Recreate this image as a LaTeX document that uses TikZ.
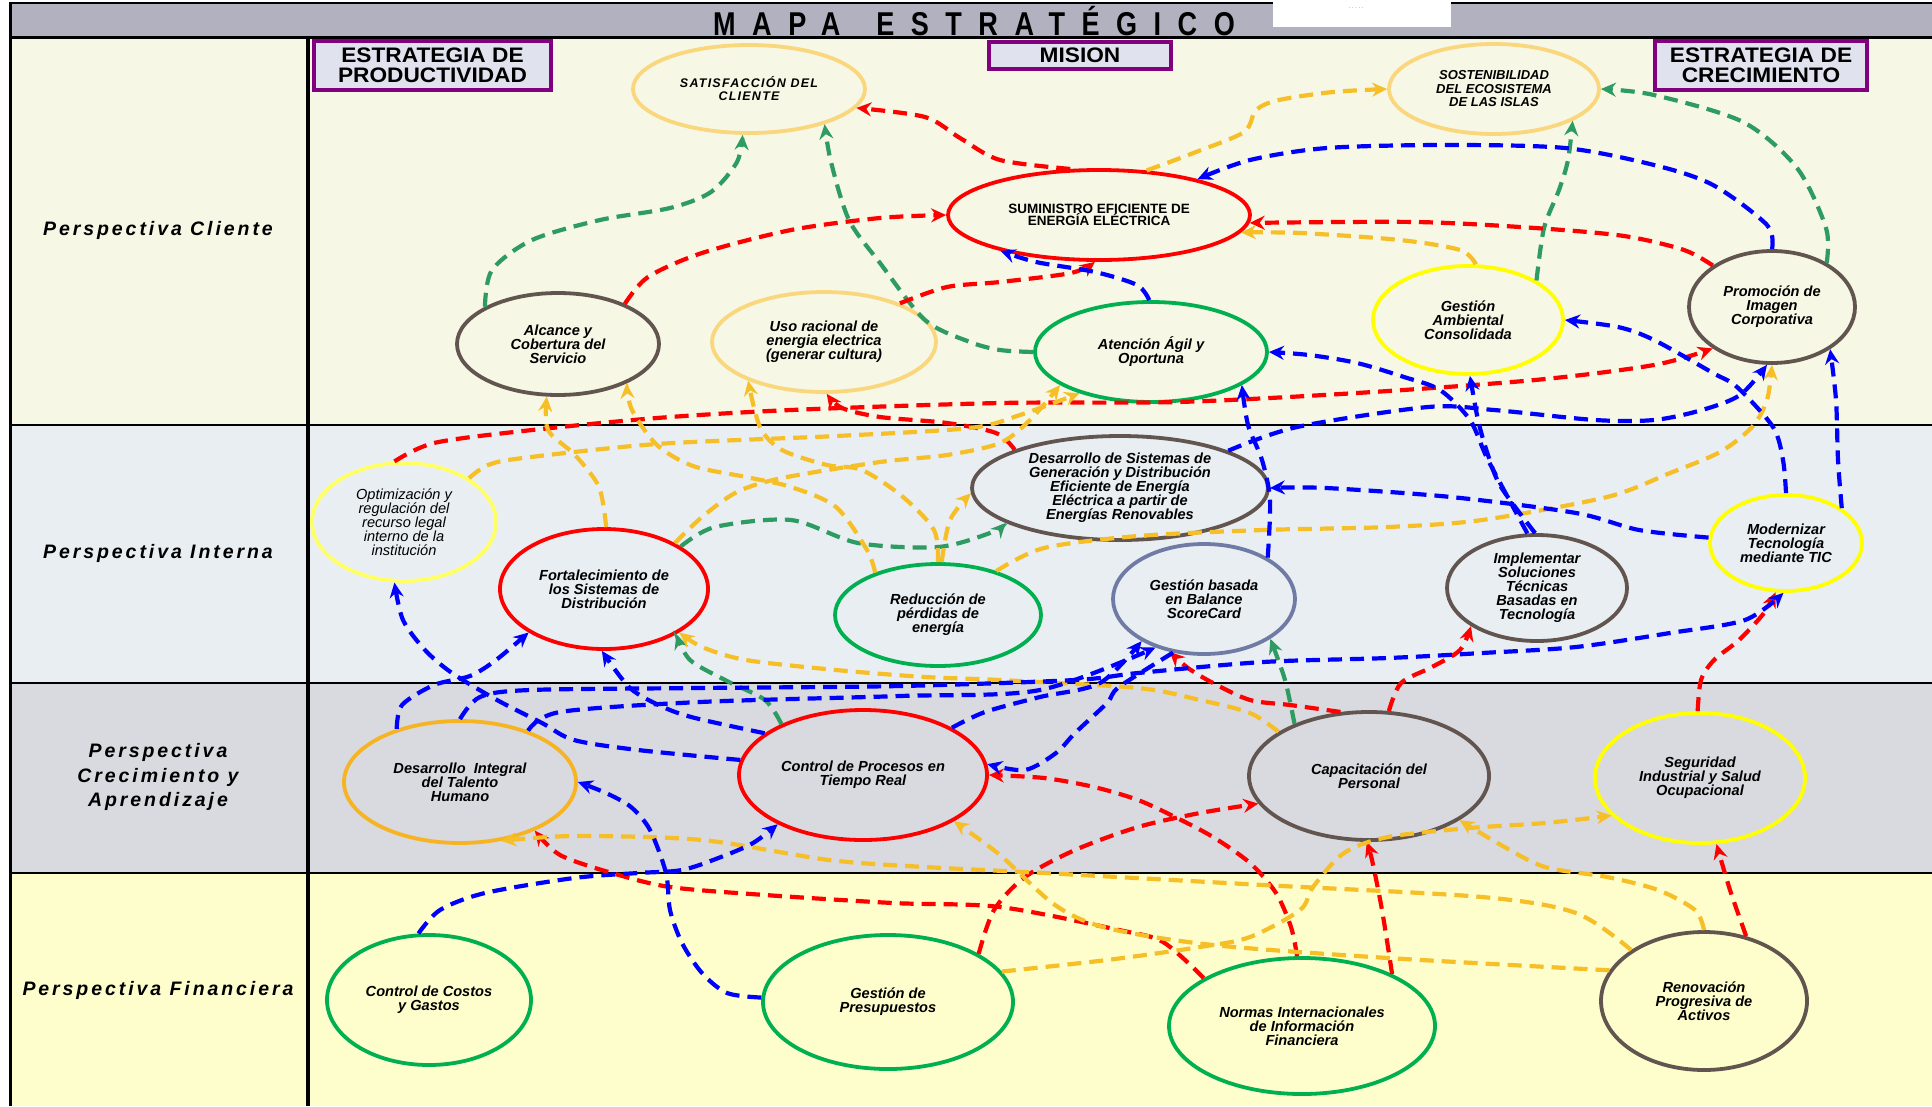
\documentclass[tikz,border=0pt]{standalone}
\usepackage{fontspec}
\setmainfont{Liberation Sans}
\newfontfamily\titlefont[LetterSpace=50,FakeStretch=0.82]{Liberation Sans}
\newfontfamily\rowfont[LetterSpace=15]{Liberation Sans}
\newfontfamily\boxfont[FakeStretch=1.08]{Liberation Sans}
\newfontfamily\capsfont[LetterSpace=10]{Liberation Sans}
\usetikzlibrary{shapes.geometric,arrows.meta}

\definecolor{ctitle}{RGB}{177,177,191}
\definecolor{ccli}{RGB}{246,247,228}
\definecolor{cint}{RGB}{233,238,243}
\definecolor{ccre}{RGB}{217,217,224}
\definecolor{cfin}{RGB}{254,254,204}
\definecolor{cpurple}{RGB}{128,0,128}
\definecolor{cboxfill}{RGB}{224,227,238}
\definecolor{cred}{RGB}{255,0,0}
\definecolor{cgold}{RGB}{247,191,39}
\definecolor{csea}{RGB}{46,155,98}
\definecolor{cblue}{RGB}{0,0,255}
\definecolor{clgold}{RGB}{250,214,125}
\definecolor{cyel}{RGB}{255,255,0}
\definecolor{cpyel}{RGB}{255,255,102}
\definecolor{cgreen}{RGB}{0,176,80}
\definecolor{cbrown}{RGB}{98,85,80}
\definecolor{cslate}{RGB}{111,123,165}
\definecolor{corange}{RGB}{246,180,35}

\begin{document}
\begin{tikzpicture}[x=1pt,y=-1pt,
  goal/.style={ellipse, line width=3.8pt, inner sep=0pt, align=center,
    font=\fontsize{14.6}{14}\selectfont\bfseries\itshape},
  stbox/.style={draw=cpurple, fill=cboxfill, line width=4pt, inner sep=0pt, align=center,
    font=\boxfont\fontsize{21}{19.5}\selectfont\bfseries},
  rowlabel/.style={align=center, font=\rowfont\fontsize{19.5}{24.6}\selectfont\bfseries\itshape},
  link/.style={line width=4.2pt, dash pattern=on 14pt off 8pt,
    -{Stealth[length=15pt,width=14pt,inset=5pt]}},
  lr/.style={link, draw=cred},
  ly/.style={link, draw=cgold},
  lg/.style={link, draw=csea},
  lb/.style={link, draw=cblue},
  rule/.style={line width=2.6pt}]
\useasboundingbox (0,0) rectangle (1932,1106);
\fill[white] (0,0) rectangle (1932,1106);

% bands
\fill[ctitle] (10,3) rectangle (1932,37);
\fill[ccli] (10,37) rectangle (1932,425);
\fill[cint] (10,425) rectangle (1932,683);
\fill[ccre] (10,683) rectangle (1932,873);
\fill[cfin] (10,873) rectangle (1932,1106);
\draw[rule] (10,3) -- (1932,3);
\draw[rule, line width=3pt] (10,37) -- (1932,37);
\draw[rule] (10,425) -- (1932,425);
\draw[rule] (10,683) -- (1932,683);
\draw[rule] (10,873) -- (1932,873);
\draw[line width=3pt] (10,2) -- (10,1106);
\draw[line width=3.4pt] (308,37) -- (308,1106);

% title
\fill[white] (1273,0) rectangle (1451,27);
\node[font=\fontsize{6}{6}\selectfont, text=gray] (dots) at (1356,8) {.\ .\ .\ .\ .};
\node[font=\titlefont\fontsize{33}{33}\selectfont\bfseries] (title) at (974,21) {MAPA\hspace{12pt} ESTRATÉGICO};

% perspectives
\node[rowlabel] (pcli) at (158,230) {Perspectiva Cliente};
\node[rowlabel] (pint) at (158,553) {Perspectiva Interna};
\node[rowlabel] (pcre) at (158,777) {Perspectiva\\Crecimiento y\\Aprendizaje};
\node[rowlabel] (pfin) at (158,990) {Perspectiva Financiera};

% strategy boxes
\node[stbox, minimum width=237pt, minimum height=49pt] (sprod) at (432.5,65.5) {ESTRATEGIA DE\\PRODUCTIVIDAD};
\node[stbox, minimum width=182pt, minimum height=27pt] (smis) at (1080,55.5) {MISION};
\node[stbox, minimum width=212pt, minimum height=49pt] (scre) at (1761,65.5) {ESTRATEGIA DE\\CRECIMIENTO};

% objectives: customer
\node[goal, draw=clgold, minimum width=232pt, minimum height=88pt,
  font=\capsfont\fontsize{12.5}{13}\selectfont\bfseries\itshape] (sat) at (749,89) {SATISFACCIÓN DEL\\CLIENTE};
\node[goal, draw=clgold, minimum width=210pt, minimum height=90pt,
  font=\fontsize{13}{13.5}\selectfont\bfseries\itshape] (sost) at (1494,89) {SOSTENIBILIDAD\\DEL ECOSISTEMA\\DE LAS ISLAS};
\node[goal, draw=cred, minimum width=302pt, minimum height=90pt,
  font=\fontsize{13.5}{12.5}\selectfont\bfseries] (sum) at (1099,215) {SUMINISTRO EFICIENTE DE\\ENERGÍA ELÉCTRICA};
\node[goal, draw=cbrown, minimum width=202pt, minimum height=102pt] (alc) at (558,344) {Alcance y\\Cobertura del\\Servicio};
\node[goal, draw=clgold, minimum width=224pt, minimum height=100pt] (uso) at (824,342) {Uso racional de\\energia electrica\\(generar cultura)};
\node[goal, draw=cgreen, minimum width=232pt, minimum height=100pt] (ate) at (1151,352) {Atención Ágil y\\Oportuna};
\node[goal, draw=cyel, minimum width=190pt, minimum height=108pt] (gam) at (1468,320) {Gestión\\Ambiental\\Consolidada};
\node[goal, draw=cbrown, minimum width=166pt, minimum height=112pt] (pro) at (1772,307) {Promoción de\\Imagen\\Corporativa};

% objectives: internal
\node[goal, draw=cpyel, minimum width=184pt, minimum height=118pt,
  font=\fontsize{14.6}{14}\selectfont\itshape] (opt) at (404,522) {Optimización y\\regulación del\\recurso legal\\interno de la\\institución};
\node[goal, draw=cbrown, minimum width=296pt, minimum height=104pt] (des) at (1120,488) {Desarrollo de Sistemas de\\Generación y Distribución\\Eficiente de Energía\\Eléctrica a partir de\\Energías Renovables};
\node[goal, draw=cred, minimum width=208pt, minimum height=120pt] (fort) at (604,589) {Fortalecimiento de\\los Sistemas de\\Distribución};
\node[goal, draw=cgreen, minimum width=206pt, minimum height=102pt] (red) at (938,615) {Reducción de\\pérdidas de\\energía};
\node[goal, draw=cslate, minimum width=182pt, minimum height=110pt] (bsc) at (1204,599) {Gestión basada\\en Balance\\ScoreCard};
\node[goal, draw=cbrown, minimum width=180pt, minimum height=106pt] (imp) at (1537,588) {Implementar\\Soluciones\\Técnicas\\Basadas en\\Tecnología};
\node[goal, draw=cyel, minimum width=152pt, minimum height=96pt] (mod) at (1786,543) {Modernizar\\Tecnología\\mediante TIC};

% objectives: learning and growth
\node[goal, draw=corange, minimum width=232pt, minimum height=122pt] (dit) at (460,782) {Desarrollo\ \ Integral\\del Talento\\Humano};
\node[goal, draw=cred, minimum width=248pt, minimum height=130pt] (cpr) at (863,775) {Control de Procesos en\\Tiempo Real};
\node[goal, draw=cbrown, minimum width=240pt, minimum height=128pt] (cap) at (1369,776) {Capacitación del\\Personal};
\node[goal, draw=cyel, minimum width=210pt, minimum height=130pt] (seg) at (1700,778) {Seguridad\\Industrial y Salud\\Ocupacional};

% objectives: financial
\node[goal, draw=cgreen, minimum width=204pt, minimum height=130pt] (ccg) at (429,1000) {Control de Costos\\y Gastos};
\node[goal, draw=cgreen, minimum width=250pt, minimum height=134pt] (gpr) at (888,1002) {Gestión de\\Presupuestos};
\node[goal, draw=cgreen, minimum width=266pt, minimum height=136pt] (nor) at (1302,1026) {Normas Internacionales\\de Información\\Financiera};
\node[goal, draw=cbrown, minimum width=206pt, minimum height=138pt] (ren) at (1704,1001) {Renovación\\Progresiva de\\Activos};

% green links
\draw[lg] plot[smooth] coordinates {(alc.153) (492,270) (532,240) (600,220) (670,208) (711,192) (737,162) (sat.262)};
\draw[lg] plot[smooth] coordinates {(ate.180) (1000,350) (970,342) (925,320) (880,263) (849,220) (831,162) (sat.335)};
\draw[lg] plot[smooth] coordinates {(pro.39) (1826,228) (1797,168) (1743,122) (1654,95) (sost.0)};
\draw[lg] plot[smooth] coordinates {(gam.30) (1544,228) (1559,190) (1568,160) (sost.338)};
\draw[lg] plot[smooth] coordinates {(fort.29) (715,527) (791,520) (858,543) (938,547) (990,533) (des.197)};
\draw[lg] plot[smooth] coordinates {(cpr.148) (765,700) (727,681) (690,660) (fort.328)};
\draw[lg] plot[smooth] coordinates {(cap.145) (1285,680) (bsc.329)};

% red links
\draw[lr] plot[smooth] coordinates {(sum.122) (1000,160) (960,138) (925,117) (sat.350)};
\draw[lr] plot[smooth] coordinates {(alc.31) (648,277) (702,253) (791,230) (880,218) (sum.180)};
\draw[lr] plot[smooth] coordinates {(uso.27) (947,287) (1000,282) (1071,273) (sum.265)};
\draw[lr] plot[smooth] coordinates {(pro.145) (1684,250) (1624,236) (1535,228) (1416,222) (sum.357)};
\draw[lr] plot[smooth] coordinates {(opt.99) (434,443) (523,431) (657,418) (791,410) (1000,403) (1178,402) (1357,393) (1535,380) (1654,365) (pro.215)};
\draw[lr] plot[smooth] coordinates {(des.160) (996,433) (947,423) (880,417) (842,408) (uso.273)};
\draw[lr] plot[smooth] coordinates {(cap.114) (1290,705) (1250,700) (1213,683) (1188,668) (bsc.237)};
\draw[lr] plot[smooth] coordinates {(cap.73) (1401,683) (1432,667) (1460,650) (imp.210)};
\draw[lr] plot[smooth] coordinates {(seg.92) (1701,680) (1714,660) (1739,640) (1764,613) (mod.258)};
\draw[lr] plot[smooth] coordinates {(nor.94) (1291,927) (1276,893) (1250,863) (1213,837) (1175,817) (1138,800) (1094,787) (1044,778) (cpr.0)};
\draw[lr] plot[smooth] coordinates {(gpr.28) (994,910) (1025,877) (1075,850) (1138,827) (1200,813) (cap.194)};
\draw[lr] plot[smooth] coordinates {(nor.154) (1163,942) (1119,930) (1000,907) (893,903) (765,895) (670,887) (612,873) (560,855) (dit.327)};
\draw[lr] plot[smooth] coordinates {(nor.30) (1382,910) (1372,860) (cap.268)};
\draw[lr] plot[smooth] coordinates {(ren.57) (1730,890) (seg.284)};

% gold links
\draw[ly] plot[smooth] coordinates {(sum.43) (1196,152) (1244,132) (1256,110) (1279,100) (1333,92) (sost.180)};
\draw[ly] plot[smooth] coordinates {(gam.82) (1460,250) (1400,240) (1300,233) (sum.353)};
\draw[ly] plot[smooth] coordinates {(fort.88) (599,487) (575,455) (548,430) (alc.258)};
\draw[ly] plot[smooth] coordinates {(red.146) (867,550) (836,507) (791,487) (746,477) (693,466) (657,445) (632,410) (alc.330)};
\draw[ly] plot[smooth] coordinates {(red.90) (934,530) (903,497) (862,470) (827,465) (782,450) (760,427) (uso.207)};
\draw[ly] plot[smooth] coordinates {(red.86) (950,520) (des.182)};
\draw[ly] plot[smooth] coordinates {(fort.33) (702,517) (737,492) (782,478) (880,462) (947,455) (1000,443) (1030,420) (ate.200)};
\draw[ly] plot[smooth] coordinates {(opt.34) (488,465) (523,458) (657,444) (836,436) (970,428) (1020,415) (ate.210)};
\draw[ly] plot[smooth] coordinates {(red.37) (1044,548) (1138,536) (1263,530) (1388,527) (1482,520) (1607,497) (1670,473) (1720,452) (1752,427) (1767,400) (pro.270)};
\draw[ly] plot[smooth] coordinates {(cap.154) (1250,713) (1200,700) (1138,688) (1000,680) (925,677) (836,670) (746,660) (702,647) (fort.330)};
\draw[ly] plot[smooth] coordinates {(ren.145) (1576,913) (1482,897) (1263,885) (1044,873) (925,867) (829,860) (702,840) (574,836) (dit.305)};
\draw[ly] plot[smooth] coordinates {(ren.90) (1695,910) (1658,890) (1607,877) (1545,867) (1501,845) (cap.334)};
\draw[ly] plot[smooth] coordinates {(ren.162) (1388,958) (1213,945) (1107,928) (1055,905) (1000,855) (cpr.333)};
\draw[ly] plot[smooth] coordinates {(gpr.15) (1107,960) (1200,947) (1250,937) (1300,910) (1313,887) (1344,853) (1388,837) (1470,828) (1545,823) (seg.203)};

% blue links
\draw[lb] plot[smooth] coordinates {(pro.90) (1767,225) (1713,185) (1654,165) (1565,148) (1446,145) (1327,148) (1250,160) (sum.20)};
\draw[lb] plot[smooth] coordinates {(ate.92) (1137,285) (1095,272) (1036,262) (sum.200)};
\draw[lb] plot[smooth] coordinates {(mod.90) (1783,460) (1773,427) (1737,387) (1713,373) (1654,340) (1618,327) (gam.0)};
\draw[lb] plot[smooth] coordinates {(mod.32) (1838,460) (1836,400) (pro.324)};
\draw[lb] plot[smooth] coordinates {(mod.176) (1639,530) (1576,513) (1451,497) (1326,488) (des.0)};
\draw[lb] plot[smooth] coordinates {(imp.92) (1501,487) (1488,455) (1478,420) (gam.272)};
\draw[lb] plot[smooth] coordinates {(bsc.33) (1270,500) (1262,460) (1248,425) (ate.340)};
\draw[lb] plot[smooth] coordinates {(imp.100) (1488,460) (1470,420) (1440,390) (1404,377) (1357,363) (1309,355) (ate.0)};
\draw[lb] plot[smooth] coordinates {(cpr.173) (638,750) (574,740) (542,723) (497,700) (452,673) (425,650) (403,620) (opt.261)};
\draw[lb] plot[smooth] coordinates {(dit.140) (402,705) (434,685) (470,676) (496,660) (fort.210)};
\draw[lb] plot[smooth] coordinates {(cpr.157) (695,718) (663,707) (630,688) (fort.268)};
\draw[lb] plot[smooth] coordinates {(dit.90) (480,697) (530,690) (700,688) (900,686) (1075,680) (1138,673) (1263,662) (1388,658) (1482,653) (1576,647) (1670,633) (1745,620) (mod.267)};
\draw[lb] plot[smooth] coordinates {(cpr.28) (985,712) (1040,697) (1100,683) (bsc.214)};
\draw[lb] plot[smooth] coordinates {(dit.37) (560,712) (700,702) (900,696) (1040,690) (bsc.225)};
\draw[lb] plot[smooth] coordinates {(bsc.240) (1119,687) (1107,703) (1075,733) (1056,753) (1025,770) (cpr.5)};
\draw[lb] plot[smooth] coordinates {(gpr.178) (727,993) (702,973) (682,943) (670,910) (666,873) (650,830) (631,807) (606,793) (dit.0)};
\draw[lb] plot[smooth] coordinates {(ccg.99) (440,910) (485,893) (574,878) (638,873) (682,870) (721,857) (753,843) (cpr.210)};
\draw[lb] plot[smooth] coordinates {(des.19) (1297,427) (1428,407) (1494,410) (1595,420) (1654,420) (1702,410) (1740,395) (pro.265)};
\end{tikzpicture}
\end{document}
